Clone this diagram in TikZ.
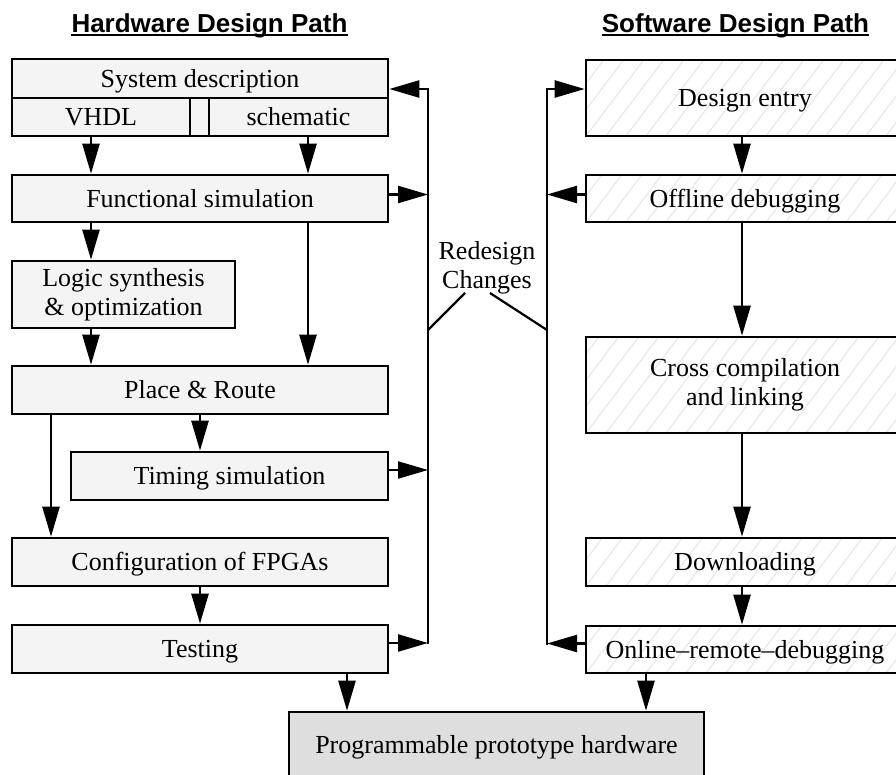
\documentclass[tikz,border=0pt]{standalone}
\usepackage{fontspec}
\setmainfont{Liberation Serif}
\newfontfamily\titlefont{Liberation Sans}
\usetikzlibrary{arrows.meta,calc}
\definecolor{hwfill}{HTML}{F4F4F4}
\definecolor{progfill}{HTML}{DEDEDE}
\definecolor{hatchc}{HTML}{EAEAEA}
\begin{document}
\begin{tikzpicture}[x=1pt,y=-1pt,
 box/.style={draw, line width=2.6pt, inner sep=0pt, align=center, font=\fontsize{26}{29}\selectfont},
 one/.style={text height=17pt, text depth=0pt},
 hwbox/.style={box, fill=hwfill},
 swbox/.style={box, fill=white, path picture={\foreach \k in {-7,...,17}{\draw[hatchc, line width=1.3pt] ([xshift=\k*20pt]path picture bounding box.south west) -- ++(100pt,132pt);}}},
 conn/.style={line width=2.4pt, -{Triangle[length=30pt,width=17pt]}},
 fb/.style={line width=2.4pt, line cap=rect},
 diag/.style={line width=2.2pt},
 title/.style={font=\titlefont\bfseries\fontsize{26}{30}\selectfont, inner sep=0pt, anchor=base},
 lbl/.style={align=center, font=\fontsize{26}{29}\selectfont, inner sep=0pt}
]
\useasboundingbox (0,0) rectangle (896,774);
\clip (0,0) rectangle (896,774);

% titles
\node[title] (ht) at (209.5,32) {Hardware Design Path};
\node[title] (st) at (735.5,32) {Software Design Path};
\draw[line width=2pt] ([yshift=-3pt]ht.base west) -- ([yshift=-3pt]ht.base east);
\draw[line width=2pt] ([yshift=-3pt]st.base west) -- ([yshift=-3pt]st.base east);

% hardware path
\node[hwbox, line width=2pt, minimum width=376pt, minimum height=77pt] (frame) at (200,97.5) {};
\node[hwbox, one, minimum width=376pt, minimum height=39pt] (sys) at (200,78.5) {System description};
\node[hwbox, one, minimum width=178pt, minimum height=38pt] (vhdl) at (101,117) {VHDL};
\node[hwbox, one, minimum width=179pt, minimum height=38pt] (sch) at (298.5,117) {schematic};
\node[hwbox, one, minimum width=376pt, minimum height=47pt] (fs) at (200,198.5) {Functional simulation};
\node[hwbox, minimum width=223pt, minimum height=67pt] (ls) at (123.5,294.5) {Logic synthesis\\\& optimization};
\node[hwbox, one, minimum width=376pt, minimum height=48pt] (pr) at (200,390) {Place \& Route};
\node[hwbox, one, minimum width=317pt, minimum height=48pt] (ts) at (229.5,476) {Timing simulation};
\node[hwbox, one, minimum width=376pt, minimum height=48pt] (cf) at (200,562) {Configuration of FPGAs};
\node[hwbox, one, minimum width=376pt, minimum height=48pt] (te) at (200,649) {Testing};

% software path
\node[swbox, one, minimum width=318pt, minimum height=76pt] (de) at (745,98) {Design entry};
\node[swbox, one, minimum width=318pt, minimum height=47pt] (od) at (745,198.5) {Offline debugging};
\node[swbox, minimum width=318pt, minimum height=96pt] (cc) at (745,385) {Cross compilation\\and linking};
\node[swbox, one, minimum width=318pt, minimum height=48pt] (dl) at (745,562) {Downloading};
\node[swbox, one, minimum width=318pt, minimum height=47pt] (on) at (745,649.5) {Online--remote--debugging};

% result
\node[box, one, fill=progfill, minimum width=415pt, minimum height=66pt] (pg) at (496.5,745) {Programmable prototype hardware};

% helper coordinates
\coordinate (xa) at (91,0);
\coordinate (xb) at (308,0);
\coordinate (xc) at (51,0);
\coordinate (xd) at (200,0);
\coordinate (xe) at (347,0);
\coordinate (xf) at (646,0);
\coordinate (xg) at (742,0);
\coordinate (fl) at (428,89);
\coordinate (fr) at (547,89);

% hardware arrows
\draw[conn] (vhdl.south -| xa) -- (fs.north -| xa);
\draw[conn] (sch.south -| xb) -- (fs.north -| xb);
\draw[conn] (fs.south -| xa) -- (ls.north -| xa);
\draw[conn] (ls.south -| xa) -- (pr.north -| xa);
\draw[conn] (fs.south -| xb) -- (pr.north -| xb);
\draw[conn] (pr.south -| xc) -- (cf.north -| xc);
\draw[conn] (pr.south -| xd) -- (ts.north -| xd);
\draw[conn] (cf.south -| xd) -- (te.north -| xd);
\draw[conn] (te.south -| xe) -- (pg.north -| xe);

% software arrows
\draw[conn] (de.south -| xg) -- (od.north -| xg);
\draw[conn] (od.south -| xg) -- (cc.north -| xg);
\draw[conn] (cc.south -| xg) -- (dl.north -| xg);
\draw[conn] (dl.south -| xg) -- (on.north -| xg);
\draw[conn] (on.south -| xf) -- (pg.north -| xf);

% feedback left
\path ([yshift=4pt]fs.east) coordinate (fsr);
\path ([yshift=6pt]ts.east) coordinate (tsr);
\path ([yshift=6pt]te.east) coordinate (ter);
\draw[fb] (fl) -- (ter -| fl);
\draw[conn] (fl) -- (sys.east |- fl);
\draw[conn] (fsr) -- (fsr -| fl);
\draw[conn] (tsr) -- (tsr -| fl);
\draw[conn] (ter) -- (ter -| fl);

% feedback right
\path ([yshift=4pt]od.west) coordinate (odl);
\path ([yshift=6pt]on.west) coordinate (onl);
\draw[fb] (fr) -- (onl -| fr);
\draw[conn] (fr) -- (de.west |- fr);
\draw[conn] (odl) -- (odl -| fr);
\draw[conn] (onl) -- (onl -| fr);

% redesign label
\node[lbl] (rd) at (487,268) {Redesign\\Changes};
\coordinate (jl) at (428,330);
\coordinate (jr) at (547,330);
\coordinate (rl) at (465,293);
\coordinate (rr) at (490,293);
\draw[diag] (jl) -- (rl);
\draw[diag] (rr) -- (jr);
\end{tikzpicture}
\end{document}
